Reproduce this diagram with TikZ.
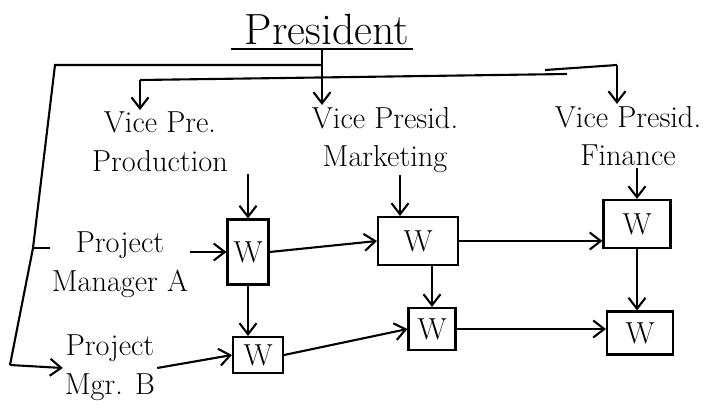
\documentclass[tikz,border=0pt]{standalone}
\usepackage{amsmath,amssymb}
\usetikzlibrary{arrows.meta,calc}

\begin{document}
\begin{tikzpicture}[x=0.02cm,y=-0.02cm,
    wbox/.style={draw,very thick,font=\LARGE,inner sep=0pt},
    lbl/.style={font=\LARGE,align=center,inner sep=1pt},
    arr/.style={very thick,-{Straight Barb[length=2.2mm,width=3.4mm]}}]
  \useasboundingbox (0,0) rectangle (714,410);
  % heads
  \node[font=\Huge,inner sep=2pt] (pres) at (327,30) {President};
  \node[lbl] (vpp) at (160,142) {Vice Pre.\\ Production};
  \node[lbl] (vpm) at (385,140) {Vice Presid.\\ Marketing};
  \node[lbl] (vpf) at (628,136) {Vice Presid.\\ Finance};
  \node[lbl] (pma) at (120,265) {Project\\ Manager A};
  \node[lbl] (pmb) at (110,368) {Project\\ Mgr. B};
  % work boxes
  \node[wbox,minimum width=0.82cm,minimum height=1.3cm] (w1) at (248,252) {W};
  \node[wbox,minimum width=1.0cm,minimum height=0.72cm] (w2) at (258,355) {W};
  \node[wbox,minimum width=1.6cm,minimum height=0.96cm] (w3) at (418,241) {W};
  \node[wbox,minimum width=0.94cm,minimum height=0.84cm] (w4) at (432,329) {W};
  \node[wbox,minimum width=1.34cm,minimum height=0.96cm] (w5) at (637,224) {W};
  \node[wbox,minimum width=1.32cm,minimum height=0.86cm] (w6) at (640,333) {W};
  % lines from the president
  \coordinate (jl) at (322,65);
  \coordinate (lt) at (55,65);
  \coordinate (lm) at (33,248);
  \coordinate (lb) at (10,365);
  \coordinate (bl) at (140,80);
  \coordinate (br) at (567,74);
  \coordinate (rj) at (545,70);
  \coordinate (rt) at (617,65);
  \draw[very thick] ([xshift=-0.2cm]pres.south west) -- (pres.south east);
  \draw[arr] (pres.south -| jl) -- (jl |- vpm.north);
  \draw[very thick] (jl) -- (lt) -- (lm) -- (lb);
  \draw[arr] (lb) -- (pmb.west);
  \draw[very thick] (lm) -- (lm -| pma.west);
  \draw[very thick] (bl) -- (br);
  \draw[arr] (bl) -- (bl |- vpp.north);
  \draw[very thick] (rj) -- (rt);
  \draw[arr] (rt) -- (rt |- vpf.north);
  % heads to boxes
  \draw[arr] (w1.north |- vpp.south) -- (w1.north);
  \draw[arr] ($(w3.north |- vpm.south)+(-18,0)$) -- ($(w3.north)+(-18,0)$);
  \draw[arr] (w5.north |- vpf.south) -- (w5.north);
  \draw[arr] (pma.east |- w1.west) -- (w1.west);
  \draw[arr] (pmb.east) -- (w2.west);
  % between boxes
  \draw[arr] (w1.east) -- (w3.west);
  \draw[arr] (w3.east) -- (w3.east -| w5.west);
  \draw[arr] (w1.south) -- (w1.south |- w2.north);
  \draw[arr] (w3.south -| w4.north) -- (w4.north);
  \draw[arr] (w5.south) -- (w5.south |- w6.north);
  \draw[arr] (w2.east) -- (w4.west);
  \draw[arr] (w4.east) -- (w4.east -| w6.west);
\end{tikzpicture}
\end{document}
